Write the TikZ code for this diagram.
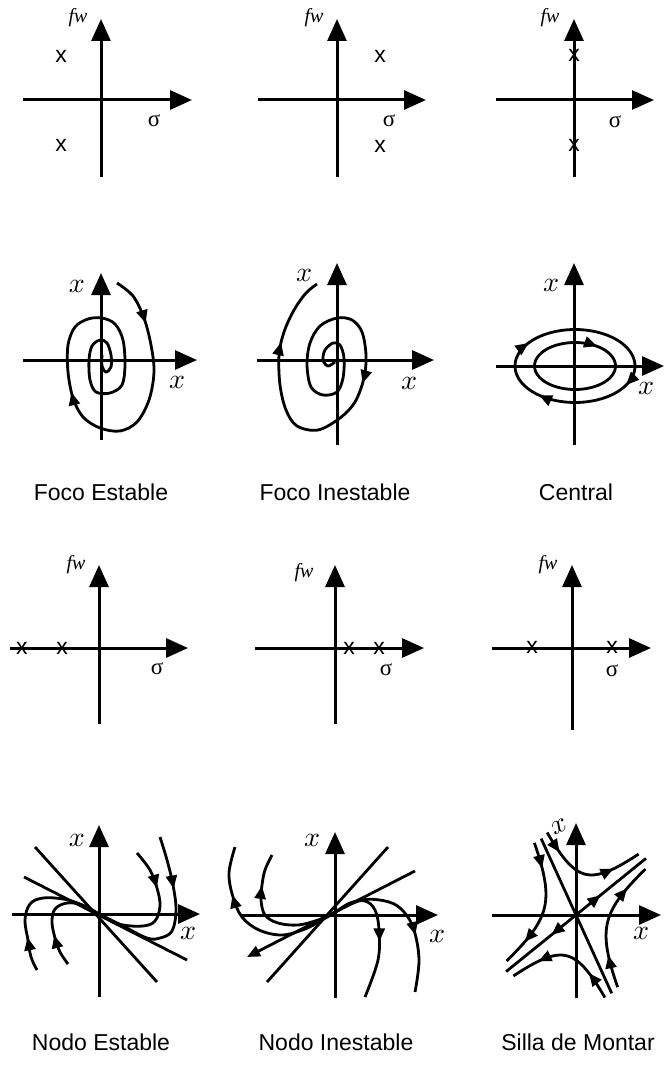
\documentclass[tikz,border=0pt]{standalone}
\usepackage{fontspec}
\usepackage{graphicx}
\setmainfont{Liberation Sans}
\newfontfamily\serifont{Liberation Serif}
\usetikzlibrary{arrows.meta,decorations.markings}
\tikzset{
  ax/.style={line width=3pt,-{Triangle[length=22pt,width=19pt]}},
  trj/.style={line width=2.8pt,line join=round},
  mk/.style={postaction={decorate,decoration={markings,mark=at position #1 with {\arrow{Triangle[length=13pt,width=11pt]}}}}},
  pole/.style={font=\fontsize{23}{23}\selectfont,inner sep=0pt},
  sig/.style={font=\serifont\fontsize{23}{23}\selectfont,inner sep=0pt},
  fwlab/.style={font=\serifont\itshape\fontsize{20}{20}\selectfont,inner sep=0pt},
  xlab/.style={inner sep=0pt},
  captxt/.style={font=\fontsize{23}{23}\selectfont,inner sep=0pt},
}
\newcommand{\bigx}{\scalebox{2.8}{$x$}}
\begin{document}
\begin{tikzpicture}[x=1pt,y=-1pt]
\useasboundingbox (0,0) rectangle (666,1070);
% ---------- Row 1 ----------
\draw[ax] (23,100) -- (192,100);
\draw[ax] (101,177) -- (101,19);
\node[fwlab] (fw1) at (78,18) {fw};
\node[sig] (s1) at (154,121) {σ};
\node[pole] (p1a) at (61,56) {x};
\node[pole] (p1b) at (61,145) {x};

\draw[ax] (258,100) -- (426,100);
\draw[ax] (337,177) -- (337,19);
\node[fwlab] (fw2) at (314,18) {fw};
\node[sig] (s2) at (389,121) {σ};
\node[pole] (p2a) at (380,56) {x};
\node[pole] (p2b) at (380,146) {x};

\draw[ax] (496,100) -- (654,100);
\draw[ax] (574,177) -- (574,19);
\node[fwlab] (fw3) at (550,18) {fw};
\node[sig] (s3) at (615,122) {σ};
\node[pole] (p3a) at (574,55) {x};
\node[pole] (p3b) at (574,145) {x};

% ---------- Row 2 ----------
\draw[ax] (23,360) -- (197,360);
\draw[ax] (101,440) -- (101,273);
\node[xlab] (x4t) at (77,286) {\bigx};
\node[xlab] (x4r) at (177,382) {\bigx};
\draw[trj,mk=0.09,mk=0.43] plot[smooth,tension=0.55] coordinates {
 (117,283) (133,296) (144,318) (151,345) (154,372) (149,400) (137,422) (120,431)
 (100,428) (83,417) (73,398) (68,372) (68,345) (75,327) (88,319) (102,318)
 (115,324) (123,340) (125,365) (122,385) (110,393) (96,392) (90,380) (89,360)
 (92,346) (100,340) (107,343) (111,355) (111,367) (106,372) (102,366) (102,355)};

\draw[ax] (257,360) -- (434,360);
\draw[ax] (337,445) -- (337,263);
\node[xlab] (x5t) at (304,275) {\bigx};
\node[xlab] (x5r) at (409,383) {\bigx};
\draw[trj,mk=0.54,mk=0.87] plot[smooth,tension=0.55] coordinates {
 (335,362) (328,366) (323,360) (325,350) (333,343) (340,345) (344,358) (343,378)
 (337,392) (323,395) (311,387) (307,365) (310,343) (320,326) (337,318) (352,320)
 (362,332) (366,355) (364,378) (355,402) (340,418) (318,430) (297,426) (286,410)
 (280,385) (279,355) (284,332) (294,310) (306,293) (317,284)};

\draw[ax] (496,366) -- (664,366);
\draw[ax] (574,445) -- (574,263);
\node[xlab] (x6t) at (551,285) {\bigx};
\node[xlab] (x6r) at (646,388) {\bigx};
\begin{scope}[shift={(575,366)}]
\draw[trj,mk=0.07,mk=0.37,mk=0.59] plot[domain=0:360,samples=90] ({60*cos(\x)},{36.5*sin(\x)}) -- cycle;
\draw[trj,mk=0.86] plot[domain=0:360,samples=72] ({40.5*cos(\x)},{23.5*sin(\x)}) -- cycle;
\end{scope}

\node[captxt] (c1) at (101,492) {Foco Estable};
\node[captxt] (c2) at (335,492) {Foco Inestable};
\node[captxt] (c3) at (576,492) {Central};

% ---------- Row 3 ----------
\draw[ax] (10,648) -- (188,648);
\draw[ax] (99,724) -- (99,565);
\node[fwlab] (fw7) at (76,565) {fw};
\node[sig] (s7) at (157,669) {σ};
\node[pole] (p7a) at (22,648) {x};
\node[pole] (p7b) at (62,648) {x};

\draw[ax] (255,648) -- (424,648);
\draw[ax] (335,724) -- (335,565);
\node[fwlab] (fw8) at (304,573) {fw};
\node[sig] (s8) at (386,670) {σ};
\node[pole] (p8a) at (349,648) {x};
\node[pole] (p8b) at (379,648) {x};

\draw[ax] (492,648) -- (651,648);
\draw[ax] (572,730) -- (572,565);
\node[fwlab] (fw9) at (548,565) {fw};
\node[sig] (s9) at (612,671) {σ};
\node[pole] (p9a) at (532,647) {x};
\node[pole] (p9b) at (612,647) {x};

% ---------- Row 4 ----------
% Nodo Estable
\draw[ax] (12,914) -- (200,914);
\draw[ax] (99,997) -- (99,825);
\node[xlab] (x10t) at (77,840) {\bigx};
\node[xlab] (x10r) at (188,933) {\bigx};
\draw[trj] (35,847) -- (157,982);
\draw[trj] (24,877) -- (187,960);
\draw[trj,mk=0.3] plot[smooth,tension=0.6] coordinates {(137,853) (150,870) (157,888) (160,906) (155,921) (143,926) (123,925) (110,920) (99,914)};
\draw[trj,mk=0.3] plot[smooth,tension=0.6] coordinates {(160,837) (167,860) (173,885) (176,910) (172,931) (160,938) (147,938) (123,926) (99,914)};
\draw[trj,mk=0.24] plot[smooth,tension=0.6] coordinates {(37,970) (31,957) (28,940) (25,920) (30,904) (43,898) (63,899) (80,904) (99,914)};
\draw[trj,mk=0.3] plot[smooth,tension=0.6] coordinates {(68,964) (60,952) (55,938) (52,922) (55,909) (67,903) (82,905) (99,914)};

% Nodo Inestable
\draw[ax] (242,915) -- (438,915);
\draw[ax] (335,998) -- (335,832);
\node[xlab] (x11t) at (312,840) {\bigx};
\node[xlab] (x11r) at (437,936) {\bigx};
\draw[trj] (267,982) -- (388,847);
\draw[trj,-{Triangle[length=13pt,width=11pt]}] (415,871) -- (247,957);
\draw[trj,mk=0.72] plot[smooth,tension=0.6] coordinates {(334,913) (322,920) (305,929) (282,935) (259,930) (242,917) (233,897) (229,873) (235,847)};
\draw[trj,mk=0.76] plot[smooth,tension=0.6] coordinates {(334,913) (318,920) (298,925) (278,923) (265,915) (261,900) (262,885) (265,870) (272,855)};
\draw[trj,mk=0.58] plot[smooth,tension=0.6] coordinates {(334,913) (350,903) (365,901) (375,910) (379,930) (378,960) (365,997)};
\draw[trj,mk=0.64] plot[smooth,tension=0.6] coordinates {(334,913) (362,900) (389,902) (404,912) (414,930) (419,960) (415,992)};

% Silla de Montar
\draw[ax] (492,915) -- (661,915);
\draw[ax] (576,998) -- (576,823);
\node[xlab,rotate=25] (x12t) at (559,827) {\bigx};
\node[xlab] (x12r) at (641,933) {\bigx};
\begin{scope}[shift={(576,915)}]
\begin{scope}[x={(0.777pt,0.629pt)},y={(-0.415pt,0.910pt)}]
  \draw[trj] (0,84) -- (0,-86);
  \draw[trj,mk=0.35] (0,0) -- (90,0);
  \draw[trj,mk=0.35] (0,0) -- (-90,0);
  \draw[trj,mk=0.2,mk=0.75] plot[domain=-1.167:1.167,samples=50] ({26.46*exp(\x)},{26.46*exp(-\x)});
  \draw[trj,mk=0.25,mk=0.8] plot[domain=-1.167:1.167,samples=50] ({26.46*exp(\x)},{-26.46*exp(-\x)});
  \draw[trj,mk=0.2,mk=0.8] plot[domain=-1.167:1.167,samples=50] ({-26.46*exp(\x)},{26.46*exp(-\x)});
  \draw[trj,mk=0.25,mk=0.75] plot[domain=-1.167:1.167,samples=50] ({-26.46*exp(\x)},{-26.46*exp(-\x)});
\end{scope}
\end{scope}

\node[captxt] (c4) at (101,1042) {Nodo Estable};
\node[captxt] (c5) at (336,1042) {Nodo Inestable};
\node[captxt] (c6) at (578,1042) {Silla de Montar};
\end{tikzpicture}
\end{document}
